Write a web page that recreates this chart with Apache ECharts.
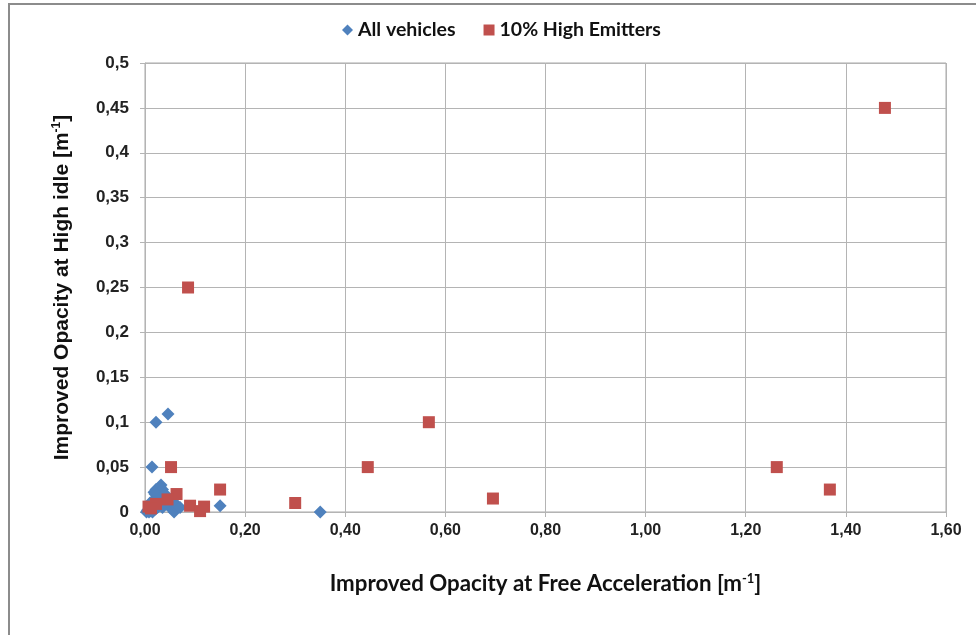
<!DOCTYPE html>
<html><head><meta charset="utf-8">
<script src="https://cdn.jsdelivr.net/npm/echarts@6/dist/echarts.min.js"></script>
<style>html,body{margin:0;padding:0;background:#fff}#c{width:976px;height:635px}</style>
</head><body><div id="c"></div>
<script>
// All vehicles [improved opacity at free acceleration, improved opacity at high idle]
const allVehicles = [
 [0.003,0.0],[0.005,0.002],[0.008,0.0],[0.010,0.005],[0.012,0.001],[0.015,0.008],
 [0.018,0.012],[0.020,0.015],[0.020,0.020],[0.022,0.025],[0.025,0.018],[0.025,0.010],
 [0.028,0.022],[0.030,0.028],[0.032,0.030],[0.035,0.025],[0.035,0.020],[0.038,0.015],
 [0.030,0.012],[0.040,0.010],[0.045,0.008],[0.050,0.005],[0.055,0.003],[0.058,0.0],
 [0.060,0.008],[0.065,0.007],[0.070,0.005],[0.015,0.0],[0.020,0.003],[0.025,0.005],
 [0.018,0.022],[0.028,0.015],[0.040,0.020],[0.035,0.005],[0.045,0.012],[0.010,0.010],
 [0.350,0.0],[0.046,0.109],[0.022,0.100],[0.014,0.050],[0.150,0.007]
];
// 10% High Emitters
const highEmitters = [
 [1.478,0.450],[0.086,0.250],[0.567,0.100],[0.445,0.050],[1.262,0.050],[1.368,0.025],
 [0.695,0.015],[0.300,0.010],[0.052,0.050],[0.150,0.025],[0.063,0.020],[0.045,0.014],
 [0.090,0.007],[0.110,0.001],[0.118,0.006],[0.007,0.006],[0.022,0.009],[0.012,0.004]
];
const xTitle = 'Improved Opacity at Free Acceleration [m';
const yTitle = 'Improved Opacity at High idle [m';

const chart = echarts.init(document.getElementById('c'));
const gridCol = '#b4b4b4';
chart.setOption({
  animation: false,
  graphic: [{type:'rect', shape:{x:9,y:4,width:1100,height:800}, style:{fill:'none', stroke:'#8c8c8c', lineWidth:2}, silent:true}],
  legend: {
    top: 15, left: 337, itemGap: 28, itemWidth: 11, itemHeight: 11,
    textStyle: {fontFamily:'Lato', fontWeight:'bold', fontSize:19.5, color:'#111'},
    data: [{name:'All vehicles', icon:'diamond'}, {name:'10% High Emitters', icon:'rect'}]
  },
  grid: {left:145, right:30, top:63, bottom:123, show:true, borderColor:'#a8a8a8', borderWidth:1},
  xAxis: {
    type:'value', min:0, max:1.6, interval:0.2,
    axisLine:{show:true, lineStyle:{color:gridCol}},
    axisTick:{show:true, lineStyle:{color:gridCol}, length:5},
    splitLine:{show:true, lineStyle:{color:gridCol}},
    axisLabel:{formatter:v=>v.toFixed(2).replace('.',','), fontFamily:'Liberation Sans', fontWeight:'bold', fontSize:16, color:'#222', margin:11},
    name: '{a|'+xTitle+'}{s|-1}{a|]}', nameLocation:'middle', nameGap:60,
    nameTextStyle:{rich:{a:{fontFamily:'Lato', fontWeight:'bold', fontSize:22.3, color:'#111'}, s:{fontFamily:'Lato', fontWeight:'bold', fontSize:13, color:'#111', padding:[0,0,10,0]}}}
  },
  yAxis: {
    type:'value', min:0, max:0.5, interval:0.05,
    axisLine:{show:true, lineStyle:{color:gridCol}},
    axisTick:{show:true, lineStyle:{color:gridCol}, length:5},
    splitLine:{show:true, lineStyle:{color:gridCol}},
    axisLabel:{formatter:v=>String(Math.round(v*100)/100).replace('.',','), fontFamily:'Liberation Sans', fontWeight:'bold', fontSize:17, color:'#222', margin:16},
    name: '{a|'+yTitle+'}{s|-1}{a|]}', nameLocation:'middle', nameGap:72, nameRotate:90,
    nameTextStyle:{rich:{a:{fontFamily:'Liberation Sans', fontWeight:'bold', fontSize:21, color:'#111'}, s:{fontFamily:'Liberation Sans', fontWeight:'bold', fontSize:12, color:'#111', padding:[0,0,10,0]}}}
  },
  series: [
    {name:'All vehicles', type:'scatter', symbol:'diamond', symbolSize:13, data:allVehicles, itemStyle:{color:'#4F81BD', opacity:1}, z:2},
    {name:'10% High Emitters', type:'scatter', symbol:'rect', symbolSize:12, data:highEmitters, itemStyle:{color:'#C0504D', opacity:1}, z:3}
  ]
});
</script></body></html>
